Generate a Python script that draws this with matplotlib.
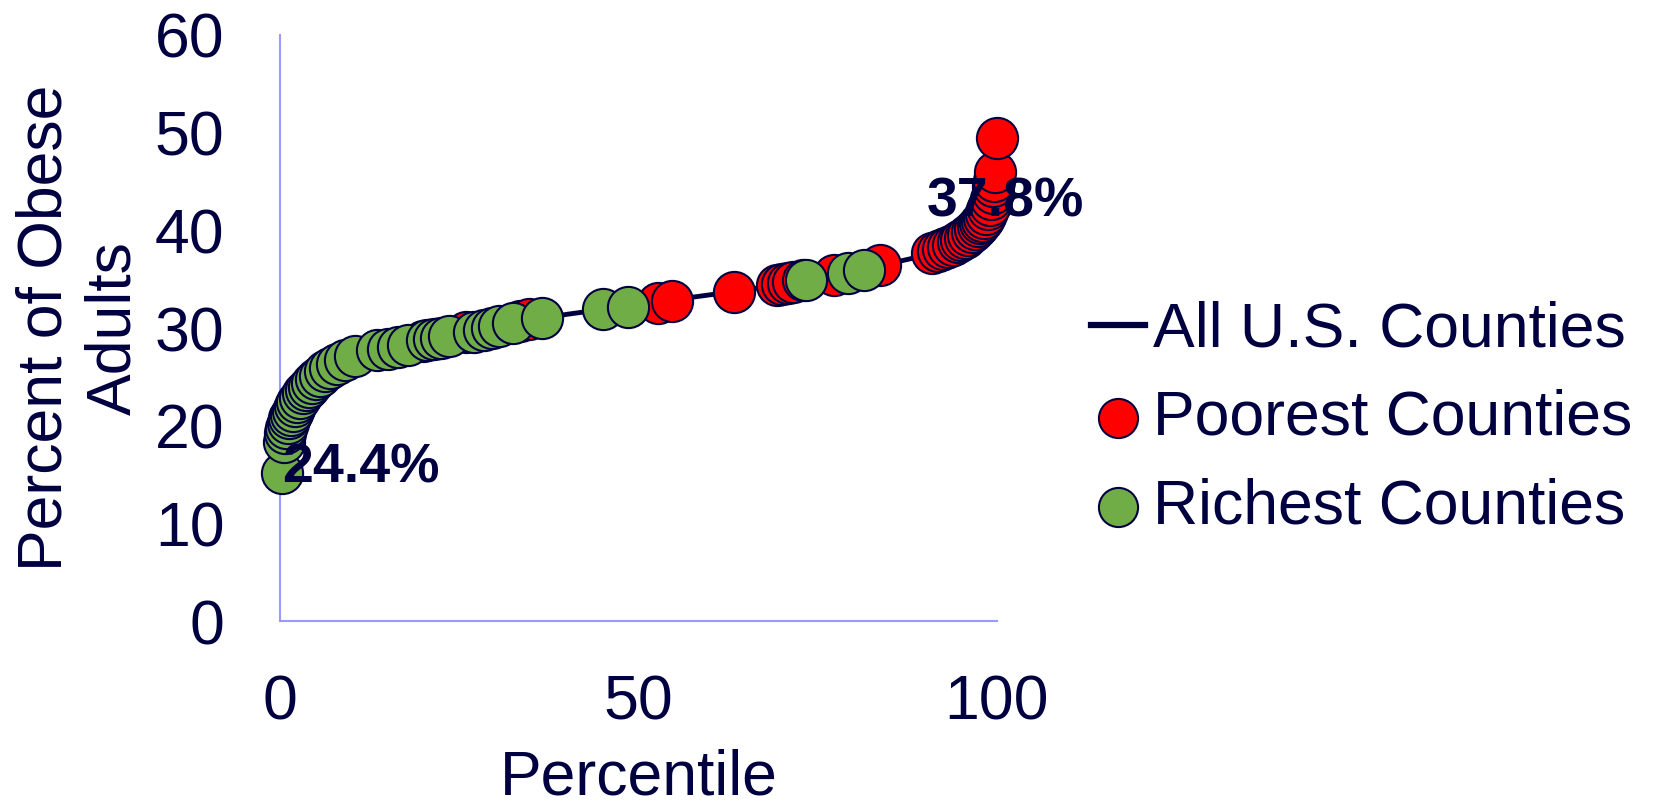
"""
Obesity rate of every U.S. county by percentile, with the poorest and richest counties marked
"""
import matplotlib
matplotlib.use('Agg')
import matplotlib.pyplot as plt

navy = '#000040'
plt.rcParams['font.family'] = ['Liberation Sans', 'DejaVu Sans']
plt.rcParams['text.color'] = navy

# all counties, sorted
pct_all = [0, 0.3, 0.7, 1, 1.5, 2, 3, 4, 5, 6, 8, 10, 12, 15, 18, 22, 26, 30, 35, 40,
           45, 50, 55, 60, 65, 70, 75, 80, 85, 88, 91, 93, 95, 96.5, 97.5, 98.3, 99,
           99.5, 99.8, 100]
obese_all = [15.1, 17.5, 19.0, 20.0, 21.0, 21.8, 23.0, 24.0, 24.8, 25.4, 26.3, 27.0,
             27.4, 27.9, 28.4, 29.0, 29.6, 30.1, 30.8, 31.4, 31.9, 32.4, 32.9, 33.4,
             33.9, 34.5, 35.1, 35.8, 36.6, 37.1, 37.7, 38.3, 39.1, 39.8, 40.5, 41.3,
             42.5, 44.0, 46.0, 49.5]

# poorest counties
pct_poor = [20.0, 26.0, 33.5, 34.7, 52.7, 54.7, 63.3, 69.3, 70.0, 70.8, 71.5, 73.0,
            77.3, 83.7, 91.0, 91.8, 92.5, 93.2, 93.8, 94.5, 95.0, 95.5, 96.0, 96.5,
            97.0, 97.3, 97.6, 97.9, 98.2, 98.5, 98.8, 99.0, 99.2, 99.4, 99.5, 99.6,
            99.7, 100.0]
obese_poor = [28.7, 29.6, 30.7, 30.9, 32.6, 32.8, 33.7, 34.4, 34.5, 34.6, 34.7, 34.9,
              35.4, 36.4, 37.7, 37.9, 38.1, 38.3, 38.5, 38.8, 39.0, 39.2, 39.5, 39.8,
              40.1, 40.4, 40.7, 41.0, 41.3, 41.7, 42.2, 42.6, 43.2, 43.8, 44.5, 45.0,
              46.0, 49.5]

# richest counties
pct_rich = [0.3, 0.5, 0.7, 0.9, 1.1, 1.3, 1.5, 1.8, 2.1, 2.4, 2.8, 3.2, 3.6, 4.0, 4.5,
            5.0, 5.6, 6.3, 7.0, 8.0, 9.0, 10.5, 13.5, 15.0, 16.5, 17.8, 20.5, 21.5,
            22.5, 23.5, 27.0, 28.5, 29.5, 30.5, 32.5, 36.5, 45.0, 48.5, 73.3, 79.2, 81.5]
obese_rich = [15.2, 18.3, 19.2, 19.8, 20.3, 20.8, 21.1, 21.5, 22.0, 22.4, 22.8, 23.3,
              23.7, 24.0, 24.4, 24.8, 25.1, 25.6, 25.9, 26.3, 26.7, 27.1, 27.7, 27.9,
              28.1, 28.3, 28.8, 28.9, 29.0, 29.2, 29.6, 29.8, 30.0, 30.2, 30.5, 31.0,
              31.9, 32.2, 34.9, 35.6, 35.9]

fig = plt.figure(figsize=(16.58, 8.06), dpi=100)
ax = fig.add_axes([0.1689, 0.2295, 0.4324, 0.7271])

ax.plot(pct_all, obese_all, color=navy, lw=3.5, label='All U.S. Counties', zorder=2,
        clip_on=False)
ax.scatter(pct_poor, obese_poor, s=880, color='#ff0000', edgecolor=navy, lw=1.5,
           label='Poorest Counties', zorder=3, clip_on=False)
ax.scatter(pct_rich, obese_rich, s=880, color='#70ad47', edgecolor=navy, lw=1.5,
           label='Richest Counties', zorder=4, clip_on=False)

ax.text(0.3, 15.6, '24.4%', fontsize=40, fontweight='bold', va='center', ha='left', zorder=5)
ax.text(90.2, 42.8, '37.8%', fontsize=40, fontweight='bold', va='center', ha='left', zorder=5)

ax.set_xlim(0, 100)
ax.set_ylim(0, 60)
ax.set_xticks([0, 50, 100])
ax.set_yticks(range(0, 61, 10))
ax.tick_params(length=0, labelsize=45, labelcolor=navy)
ax.tick_params(axis='y', pad=40)
ax.tick_params(axis='x', pad=38)
for side in ['top', 'right']:
    ax.spines[side].set_visible(False)
for side in ['left', 'bottom']:
    ax.spines[side].set_color('#9999ff')
    ax.spines[side].set_linewidth(1.5)

ax.set_xlabel('Percentile', fontsize=45, color=navy, labelpad=11)
ax.set_ylabel('Percent of Obese\nAdults', fontsize=45, color=navy, labelpad=8,
              linespacing=1.21)

leg = fig.legend(loc='center left', bbox_to_anchor=(0.658, 0.481), frameon=False,
                 fontsize=45, handlelength=0.87, handletextpad=0.12, labelspacing=0.47,
                 borderpad=0, borderaxespad=0, markerscale=0.95)
leg.get_lines()[0].set_linewidth(4.5)

plt.savefig('out.png', dpi=100)
